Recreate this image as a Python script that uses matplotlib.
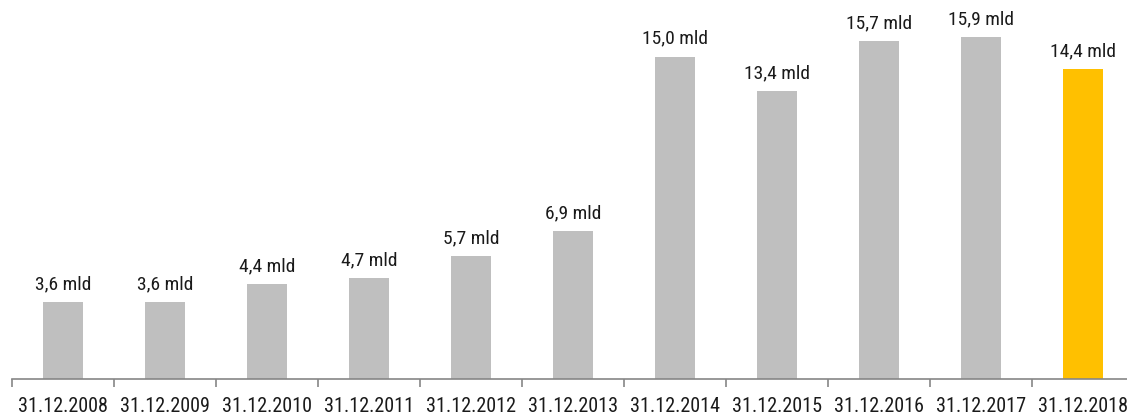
import matplotlib.pyplot as plt
from matplotlib import font_manager

# dane
categories = ['31.12.2008', '31.12.2009', '31.12.2010', '31.12.2011', '31.12.2012',
              '31.12.2013', '31.12.2014', '31.12.2015', '31.12.2016', '31.12.2017',
              '31.12.2018']
values = [3.6, 3.6, 4.4, 4.7, 5.7, 6.9, 15.0, 13.4, 15.7, 15.9, 14.4]
value_labels = ['3,6 mld', '3,6 mld', '4,4 mld', '4,7 mld', '5,7 mld', '6,9 mld',
                '15,0 mld', '13,4 mld', '15,7 mld', '15,9 mld', '14,4 mld']

names = {f.name for f in font_manager.fontManager.ttflist}
narrow = [n for n in ['Liberation Sans Narrow', 'Arial Narrow', 'Roboto Condensed',
                      'Open Sans Condensed'] if n in names]
plt.rcParams['font.family'] = narrow + ['DejaVu Sans']
plt.rcParams['font.stretch'] = 'condensed'

W, H = 1127, 414
fig = plt.figure(figsize=(W / 100, H / 100), dpi=100)
ax = fig.add_axes([12 / W, 34 / H, 1122 / W, 380 / H])

colors = ['#BFBFBF'] * (len(values) - 1) + ['#FFC000']
x = list(range(len(values)))
bars = ax.bar(x, values, width=0.39, color=colors)

for xi, v, lab in zip(x, values, value_labels):
    ax.annotate(lab, (xi, v), xytext=(0, 7), textcoords='offset points',
                ha='center', va='bottom', fontsize=14, color='#1a1a1a')

ax.set_xlim(-0.5, 10.5)
ax.set_ylim(0, 380 / 21.5)

for s in ['top', 'right', 'left']:
    ax.spines[s].set_visible(False)
ax.spines['bottom'].set_color('#868686')
ax.spines['bottom'].set_linewidth(1.2)

ax.set_yticks([])
ax.set_xticks(x)
ax.set_xticklabels(categories, fontsize=14.5, color='#1a1a1a')
ax.tick_params(axis='x', which='major', length=0, pad=12)
ax.set_xticks([i - 0.5 for i in range(len(values) + 1)], minor=True)
ax.tick_params(axis='x', which='minor', length=6, width=1.2, color='#868686', direction='out')

fig.savefig('out.png', dpi=100)
